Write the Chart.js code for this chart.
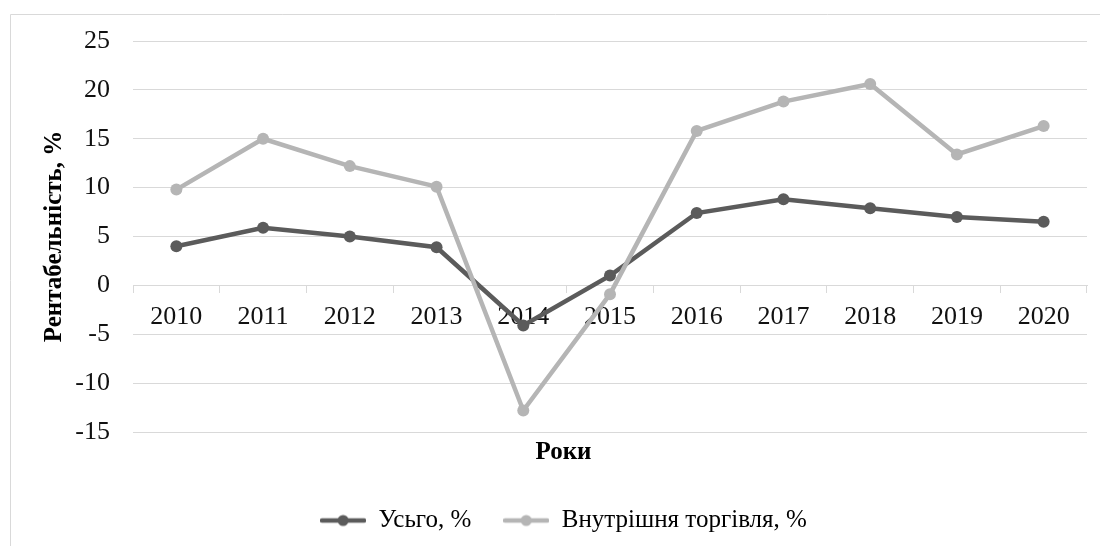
<!DOCTYPE html>
<html>
<head>
<meta charset="utf-8">
<script src="https://cdn.jsdelivr.net/npm/chart.js@4.4.1/dist/chart.umd.min.js"></script>
<style>
html,body{margin:0;padding:0;background:#fff;}
#wrap{width:1100px;height:546px;position:relative;}
</style>
</head>
<body>
<div id="wrap"><canvas id="c" width="1100" height="546"></canvas></div>
<script>
const years = ['2010','2011','2012','2013','2014','2015','2016','2017','2018','2019','2020'];
const totalValues = [4.0, 5.9, 5.0, 3.9, -4.1, 1.0, 7.4, 8.8, 7.9, 7.0, 6.5];
const tradeValues = [9.8, 15.0, 12.2, 10.1, -12.8, -0.9, 15.8, 18.8, 20.6, 13.4, 16.3];
const seriesNames = ['Усьго, %', 'Внутрішня торгівля, %'];
const yTicks = [-15, -10, -5, 0, 5, 10, 15, 20, 25];

const DARK = '#5b5b5b';
const LIGHT = '#b5b5b5';
const FONT = '"Liberation Serif", "Times New Roman", serif';

function legendIcon(color) {
  const cv = document.createElement('canvas');
  cv.width = 46; cv.height = 14;
  const g = cv.getContext('2d');
  g.strokeStyle = color; g.lineWidth = 4.5; g.lineCap = 'round';
  g.beginPath(); g.moveTo(2, 7); g.lineTo(44, 7); g.stroke();
  g.fillStyle = color;
  g.beginPath(); g.arc(23, 7, 5.5, 0, Math.PI * 2); g.fill();
  return cv;
}

const framePlugin = {
  id: 'frame',
  beforeDraw(chart) {
    const ctx = chart.ctx;
    ctx.save();
    ctx.strokeStyle = '#d9d9d9';
    ctx.lineWidth = 1;
    ctx.beginPath();
    ctx.moveTo(10.5, 546); ctx.lineTo(10.5, 14.5); ctx.lineTo(1100, 14.5);
    ctx.stroke();
    ctx.restore();
  }
};

new Chart(document.getElementById('c'), {
  type: 'line',
  data: {
    labels: years,
    datasets: [
      { label: seriesNames[0], data: totalValues, borderColor: DARK, backgroundColor: DARK,
        borderWidth: 4.5, pointRadius: 6, pointBorderWidth: 0, pointBackgroundColor: DARK,
        tension: 0, order: 2 },
      { label: seriesNames[1], data: tradeValues, borderColor: LIGHT, backgroundColor: LIGHT,
        borderWidth: 4.5, pointRadius: 6, pointBorderWidth: 0, pointBackgroundColor: LIGHT,
        tension: 0, order: 1 }
    ]
  },
  options: {
    responsive: false,
    animation: false,
    layout: { padding: { left: 40, right: 13, top: 41, bottom: 3 } },
    scales: {
      x: {
        type: 'category',
        position: { y: 0 },
        offset: true,
        grid: { display: true, drawOnChartArea: false, drawTicks: true, tickLength: 7, offset: true, color: '#d9d9d9' },
        border: { display: true, color: '#d9d9d9', width: 1 },
        ticks: { color: '#111', font: { family: FONT, size: 26 }, padding: 9, maxRotation: 0, autoSkip: false }
      },
      y: {
        min: -15, max: 25,
        afterBuildTicks: (s) => { s.ticks = yTicks.map(v => ({ value: v })); },
        afterFit: (s) => { s.width = 93; },
        grid: { color: '#d9d9d9', drawTicks: false, lineWidth: 1 },
        border: { display: false },
        ticks: { color: '#111', font: { family: FONT, size: 26 }, padding: 23 },
        title: { display: true, text: 'Рентабельність, %', color: '#000',
                 font: { family: FONT, size: 25, weight: 'bold' }, padding: 0 }
      }
    },
    plugins: {
      title: { display: true, position: 'bottom', text: 'Роки', color: '#000', weight: 500,
               font: { family: FONT, size: 25, weight: 'bold' }, padding: { top: 6, bottom: 8 } },
      legend: {
        position: 'bottom',
        labels: {
          usePointStyle: true,
          pointStyleWidth: 46,
          padding: 32,
          color: '#000',
          font: { family: FONT, size: 25 },
          generateLabels: (chart) => chart.data.datasets.map((ds, i) => ({
            text: ds.label, datasetIndex: i, pointStyle: legendIcon(ds.borderColor),
            fillStyle: ds.borderColor, strokeStyle: ds.borderColor, lineWidth: 0, hidden: false
          }))
        }
      },
      tooltip: { enabled: false }
    }
  },
  plugins: [framePlugin]
});
</script>
</body>
</html>
